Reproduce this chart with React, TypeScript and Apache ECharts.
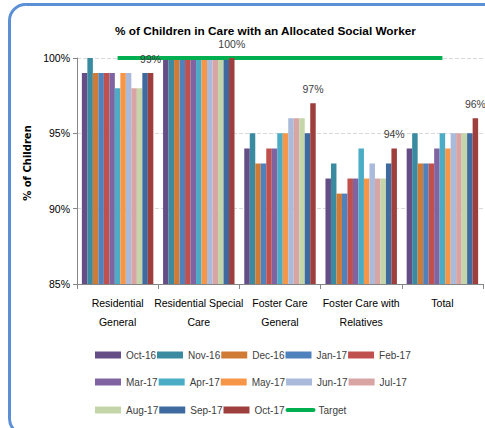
import React, { useEffect, useRef } from "react";
import * as echarts from "echarts";

const categories = [
  "Residential\nGeneral",
  "Residential Special\nCare",
  "Foster Care\nGeneral",
  "Foster Care with\nRelatives",
  "Total",
];

const months = [
  "Oct-16", "Nov-16", "Dec-16", "Jan-17", "Feb-17", "Mar-17", "Apr-17",
  "May-17", "Jun-17", "Jul-17", "Aug-17", "Sep-17", "Oct-17",
];

const monthColors = [
  "#654d86", "#3a8aa0", "#cf7b36", "#4f81bd", "#c0504d", "#8064a2", "#4bacc6",
  "#f79646", "#a9badb", "#d9a5a4", "#c4d6a9", "#3f6aa0", "#9e3f3d",
];

// values per month series, in category order
const oct16 = [99, 100, 94, 92, 94];
const nov16 = [100, 100, 95, 93, 95];
const dec16 = [99, 100, 93, 91, 93];
const jan17 = [99, 100, 93, 91, 93];
const feb17 = [99, 100, 94, 92, 93];
const mar17 = [99, 100, 94, 92, 94];
const apr17 = [98, 100, 95, 94, 95];
const may17 = [99, 100, 95, 92, 94];
const jun17 = [99, 100, 96, 93, 95];
const jul17 = [98, 100, 96, 92, 95];
const aug17 = [98, 100, 96, 92, 95];
const sep17 = [99, 100, 95, 93, 95];
const oct17 = [99, 100, 97, 94, 96];
const target = [100, 100, 100, 100, 100];

const monthValues = [
  oct16, nov16, dec16, jan17, feb17, mar17, apr17,
  may17, jun17, jul17, aug17, sep17, oct17,
];

const yTicks = [85, 90, 95, 100];

const FONT = "'Liberation Sans', Arial, sans-serif";

export default function App() {
  const ref = useRef<HTMLDivElement>(null);
  useEffect(() => {
    if (!ref.current) return;
    const chart = echarts.init(ref.current, undefined, { renderer: "svg" });
    const last = months.length - 1;
    const barSeries = months.map((m, i) => ({
      name: m,
      type: "bar",
      data: monthValues[i],
      barGap: "0%",
      barCategoryGap: "12%",
      z: i === last ? 6 : 2,
      itemStyle: { color: monthColors[i] },
      label:
        i === last
          ? {
              show: true,
              position: "top",
              distance: 9,
              formatter: "{c}%",
              color: "#404040",
              fontSize: 10.5,
              fontFamily: FONT,
            }
          : { show: false },
    }));
    const legendCommon = {
      orient: "horizontal",
      left: 95,
      padding: 0,
      itemWidth: 26,
      itemHeight: 7,
      itemGap: 1,
      formatter: "{a|{name}}",
      textStyle: {
        fontSize: 10,
        color: "#404040",
        fontFamily: FONT,
        rich: { a: { width: 33, fontSize: 10, color: "#404040", fontFamily: FONT } },
      },
    };
    const monthItem = (m: string) => ({ name: m, icon: "rect" });
    chart.setOption({
      animation: false,
      textStyle: { fontFamily: FONT },
      title: {
        text: "% of Children in Care with an Allocated Social Worker",
        left: 110,
        top: 20,
        textStyle: { fontSize: 11.8, fontWeight: "bold", color: "#000", fontFamily: FONT },
      },
      graphic: [
        {
          type: "rect",
          shape: { x: 9.5, y: 4.5, width: 520, height: 430, r: 16 },
          style: { fill: "none", stroke: "#5b8fd6", lineWidth: 3 },
          silent: true,
        },
      ],
      legend: [
        { ...legendCommon, top: 350, data: months.slice(0, 5).map(monthItem) },
        { ...legendCommon, top: 377, data: months.slice(5, 10).map(monthItem) },
        {
          ...legendCommon,
          top: 405,
          data: [
            ...months.slice(10, 13).map(monthItem),
            {
              name: "Target",
              itemStyle: { opacity: 0 },
              lineStyle: { width: 4, cap: "round", color: "#00b050" },
            },
          ],
        },
      ],
      grid: { left: 77, right: 2, top: 58, bottom: 144, containLabel: false },
      xAxis: {
        type: "category",
        data: categories,
        axisLine: { lineStyle: { color: "#868686", width: 1 } },
        axisTick: { show: true, interval: 0, length: 5, lineStyle: { color: "#868686" } },
        axisLabel: {
          interval: 0,
          fontSize: 10.5,
          lineHeight: 19,
          margin: 9,
          color: "#000",
          fontFamily: FONT,
        },
      },
      yAxis: {
        type: "value",
        min: yTicks[0],
        max: yTicks[yTicks.length - 1],
        interval: 5,
        name: "% of Children",
        nameLocation: "middle",
        nameRotate: 90,
        nameGap: 38,
        nameTextStyle: {
          fontSize: 10,
          fontWeight: "bold",
          color: "#000",
          fontFamily: "'DejaVu Sans', sans-serif",
          padding: [0, 0, 0, 16],
        },
        axisLine: { show: true, lineStyle: { color: "#868686" } },
        axisTick: { show: true, length: 4, lineStyle: { color: "#868686" } },
        axisLabel: {
          formatter: "{value}%",
          fontSize: 10.5,
          color: "#000",
          margin: 7,
          fontFamily: FONT,
        },
        splitLine: { show: true, lineStyle: { color: "#d9d9d9", type: "dashed" } },
      },
      series: [
        ...barSeries,
        {
          name: "Target",
          type: "line",
          data: target,
          symbol: "none",
          lineStyle: { color: "#00b050", width: 4 },
          itemStyle: { color: "#00b050" },
          z: 5,
        },
      ],
    });
    return () => chart.dispose();
  }, []);
  return (
    <div
      ref={ref}
      style={{ position: "fixed", left: 0, top: 0, width: 485, height: 428, background: "#fff" }}
    />
  );
}
